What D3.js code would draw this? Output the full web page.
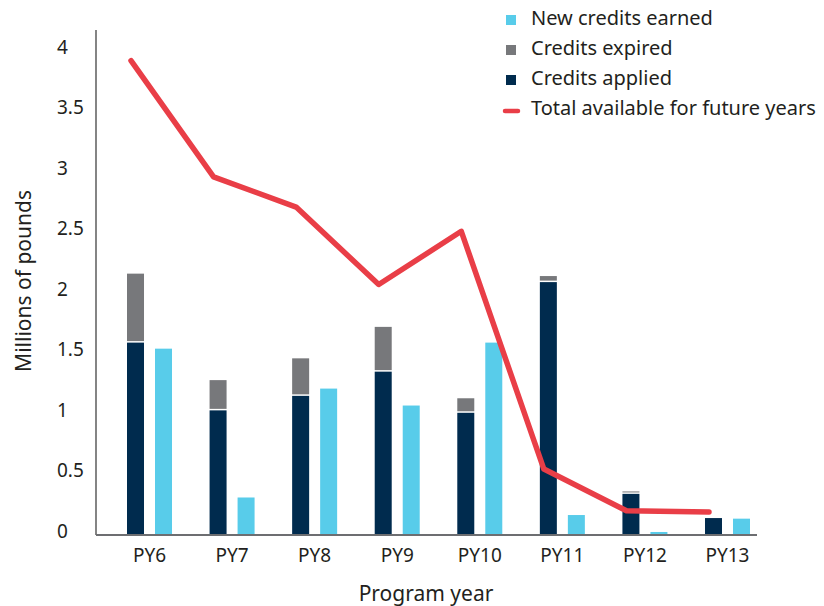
<!DOCTYPE html>
<html>
<head>
<meta charset="utf-8">
<script src="https://cdn.jsdelivr.net/npm/d3@7"></script>
<style>
  html, body { margin: 0; padding: 0; background: #fff; }
  svg { display: block; font-family: "Noto Sans", "Open Sans", sans-serif; }
</style>
</head>
<body>
<svg id="chart" width="824" height="606"></svg>
<script>
const years = ["PY6", "PY7", "PY8", "PY9", "PY10", "PY11", "PY12", "PY13"];
const applied = [1.59, 1.03, 1.15, 1.35, 1.01, 2.09, 0.34, 0.14];
const expired = [0.57, 0.25, 0.31, 0.37, 0.12, 0.05, 0.02, 0];
const earned = [1.54, 0.31, 1.21, 1.07, 1.59, 0.165, 0.025, 0.135];
const totalAvailable = [3.92, 2.96, 2.71, 2.07, 2.51, 0.545, 0.20, 0.19];
const yTicks = [0, 0.5, 1, 1.5, 2, 2.5, 3, 3.5, 4];
const yTickLabels = ["0", "0.5", "1", "1.5", "2", "2.5", "3", "3.5", "4"];
const legendLabels = ["New credits earned", "Credits expired", "Credits applied", "Total available for future years"];

const colors = { earned: "#58CCEA", expired: "#77787B", applied: "#002B4E", total: "#E93E47", text: "#231F20" };

const svg = d3.select("#chart");
const axisX0 = 96, axisX1 = 757;

const x = d3.scaleBand().domain(years).range([96, 781]).paddingInner(0.455).paddingOuter(0.3755);
const xSub = d3.scaleBand().domain(["applied", "earned"]).range([0, x.bandwidth()]).paddingInner(0.393);
const y = d3.scaleLinear().domain([0, 4]).range([535, 51]);

const data = years.map((d, i) => ({ year: d, applied: applied[i], expired: expired[i], earned: earned[i], total: totalAvailable[i] }));

// bars: applied
svg.append("g").selectAll("rect").data(data).join("rect")
  .attr("x", d => x(d.year) + xSub("applied"))
  .attr("width", xSub.bandwidth())
  .attr("y", d => y(d.applied))
  .attr("height", d => y(0) - y(d.applied))
  .attr("fill", colors.applied);

// bars: expired (stacked on applied, with thin white gap)
svg.append("g").selectAll("rect").data(data.filter(d => d.expired > 0)).join("rect")
  .attr("x", d => x(d.year) + xSub("applied"))
  .attr("width", xSub.bandwidth())
  .attr("y", d => y(d.applied + d.expired))
  .attr("height", d => Math.max(1, y(d.applied) - y(d.applied + d.expired) - 1.5))
  .attr("fill", colors.expired);

// bars: earned
svg.append("g").selectAll("rect").data(data).join("rect")
  .attr("x", d => x(d.year) + xSub("earned"))
  .attr("width", xSub.bandwidth())
  .attr("y", d => y(d.earned))
  .attr("height", d => y(0) - y(d.earned))
  .attr("fill", colors.earned);

// axes lines
svg.append("line").attr("x1", axisX0).attr("x2", axisX0).attr("y1", 30).attr("y2", y(0))
  .attr("stroke", "#333").attr("stroke-width", 1.2);
svg.append("line").attr("x1", axisX0).attr("x2", axisX1).attr("y1", y(0)).attr("y2", y(0))
  .attr("stroke", "#6D6E71").attr("stroke-width", 2);

// line
const line = d3.line().x(d => x(d.year) + xSub("applied") + 4).y(d => y(d.total));
svg.append("path").datum(data).attr("d", line)
  .attr("fill", "none").attr("stroke", colors.total).attr("stroke-width", 5.5)
  .attr("stroke-linejoin", "round").attr("stroke-linecap", "round");

// y axis tick labels
const yAxis = d3.axisLeft(y).tickValues(yTicks).tickFormat((d, i) => yTickLabels[i]).tickSize(0).tickPadding(0);
const gy = svg.append("g").attr("transform", "translate(57,0)").call(yAxis);
gy.select(".domain").remove();
gy.selectAll("text").attr("text-anchor", "start").attr("dy", "0.32em").attr("y", -4)
  .attr("font-size", 19).attr("font-family", "'Noto Sans', sans-serif").attr("fill", colors.text);

// x axis tick labels
const xAxis = d3.axisBottom(x).tickSize(0).tickPadding(0);
const gx = svg.append("g").attr("transform", `translate(0,${y(0)})`).call(xAxis);
gx.select(".domain").remove();
gx.selectAll("text").attr("dy", 0).attr("y", 27)
  .attr("font-size", 19).attr("font-family", "'Noto Sans', sans-serif").attr("fill", colors.text);

// axis titles
svg.append("text").attr("x", 426).attr("y", 601).attr("text-anchor", "middle")
  .attr("font-size", 21).attr("fill", colors.text).text("Program year");
svg.append("text").attr("transform", "translate(31,281) rotate(-90)").attr("text-anchor", "middle")
  .attr("font-size", 21).attr("fill", colors.text).text("Millions of pounds");

// legend
const legendColors = [colors.earned, colors.expired, colors.applied, colors.total];
const lg = svg.append("g");
legendLabels.forEach((label, i) => {
  const base = 25 + i * 30;
  if (i < 3) {
    lg.append("rect").attr("x", 506).attr("y", base - 10).attr("width", 10).attr("height", 10).attr("fill", legendColors[i]);
  } else {
    lg.append("line").attr("x1", 505).attr("x2", 518).attr("y1", base - 4).attr("y2", base - 4)
      .attr("stroke", legendColors[i]).attr("stroke-width", 4.5).attr("stroke-linecap", "round");
  }
  lg.append("text").attr("x", 531).attr("y", base).attr("font-size", 20).attr("fill", colors.text).text(label);
});
</script>
</body>
</html>
